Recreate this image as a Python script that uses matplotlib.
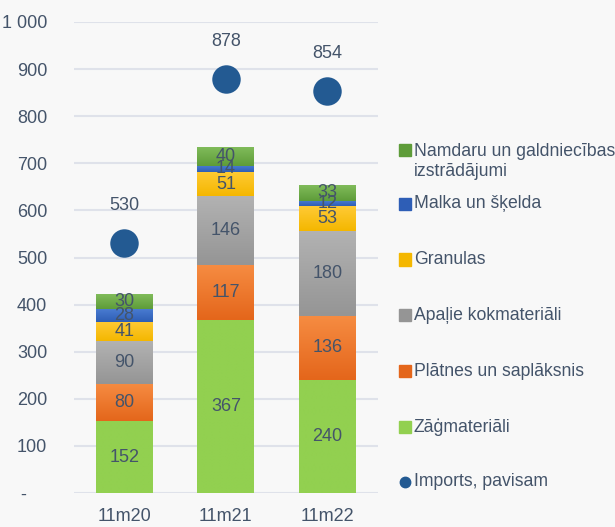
import numpy as np
import matplotlib
matplotlib.use("Agg")
import matplotlib.pyplot as plt
from matplotlib.colors import LinearSegmentedColormap
from matplotlib.patches import Rectangle
from matplotlib.lines import Line2D
from matplotlib.ticker import FuncFormatter

### DATA ###
categories = ["11m20", "11m21", "11m22"]
zagmateriali = [152, 367, 240]
platnes = [80, 117, 136]
apalie = [90, 146, 180]
granulas = [41, 51, 53]
malka = [28, 14, 12]
namdaru = [30, 40, 33]
imports_total = [530, 878, 854]

series_labels = ["Zāģmateriāli", "Plātnes un saplāksnis", "Apaļie kokmateriāli",
                 "Granulas", "Malka un šķelda", "Namdaru un galdniecības\nizstrādājumi"]
total_label = "Imports, pavisam"

### STYLE ###
TEXT_COLOR = "#44546a"
BG_COLOR = "#f8f8f8"
GRID_COLOR = "#dfe2ea"
DOT_COLOR = "#235a92"
FONT = "Liberation Sans"
FONT_SIZE = 13
LEGEND_FONT_SIZE = 12.7
BAR_WIDTH = 0.56

# (top colour, bottom colour) for each segment, bottom of the stack first
gradients = [("#92d050", "#92d050"),
             ("#f68c42", "#e4661b"),
             ("#b2b2b2", "#959595"),
             ("#ffca35", "#f4b700"),
             ("#4b7dd2", "#2e5eb6"),
             ("#80bb5a", "#5e9c39")]

plt.rcParams["font.family"] = [FONT, "DejaVu Sans"]

fig = plt.figure(figsize=(6.15, 5.27), dpi=100, facecolor=BG_COLOR)
ax = fig.add_axes([73.75 / 615, 34 / 527, (378 - 73.75) / 615, 471 / 527])
ax.set_facecolor(BG_COLOR)

stack = [zagmateriali, platnes, apalie, granulas, malka, namdaru]
x = np.arange(len(categories))
bottom = np.zeros(len(categories))

for values, (c_top, c_bot) in zip(stack, gradients):
    bars = ax.bar(x, values, BAR_WIDTH, bottom=bottom, color=c_bot, zorder=2)
    cmap = LinearSegmentedColormap.from_list("g", [c_bot, c_top])
    grad = np.linspace(0, 1, 64).reshape(-1, 1)
    for patch, v, b in zip(bars.patches, values, bottom):
        x0 = patch.get_x()
        x1 = x0 + patch.get_width()
        ax.imshow(grad, extent=(x0, x1, b, b + v), origin="lower", aspect="auto",
                  cmap=cmap, zorder=3, interpolation="bilinear")
        ax.text(patch.get_x() + patch.get_width() / 2, b + v / 2, f"{v}",
                ha="center", va="center", color=TEXT_COLOR, fontsize=FONT_SIZE, zorder=5)
    bottom = bottom + np.array(values)

# total imports dots
ax.scatter(x, imports_total, s=420, color=DOT_COLOR, zorder=6, linewidths=0)
for xi, t in zip(x, imports_total):
    ax.annotate(f"{t}", (xi, t), xytext=(0, 27), textcoords="offset points",
                ha="center", va="center", color=TEXT_COLOR, fontsize=FONT_SIZE)

# axes
ax.set_xlim(-0.5, 2.5)
ax.set_ylim(0, 1000)
ax.set_yticks(range(0, 1001, 100))
ax.yaxis.set_major_formatter(FuncFormatter(
    lambda v, p: "-    " if v == 0 else f"{int(v):,}".replace(",", " ")))
ax.set_xticks(x)
ax.set_xticklabels(categories)
ax.tick_params(axis="both", length=0, labelsize=FONT_SIZE, colors=TEXT_COLOR)
ax.tick_params(axis="y", pad=19)
ax.tick_params(axis="x", pad=11)
ax.grid(axis="y", color=GRID_COLOR, linewidth=1.5, zorder=0)
ax.set_axisbelow(True)
for s in ax.spines.values():
    s.set_visible(False)

# legend, drawn by hand to follow the reference spacing
def fx(px):
    return px / 615

def fy(py):
    return 1 - py / 527

legend_rows = [150, 204, 259.5, 315, 371, 427]
for i, (lab, (c_top, c_bot)) in enumerate(zip(series_labels[::-1], gradients[::-1])):
    yp = legend_rows[i]
    fig.patches.append(Rectangle((fx(399), fy(yp + 6)), fx(12), 12 / 527,
                                 transform=fig.transFigure, color=c_bot, figure=fig))
    if "\n" in lab:
        fig.text(fx(414), fy(yp + 11.5), lab, ha="left", va="center", color=TEXT_COLOR,
                 fontsize=LEGEND_FONT_SIZE, linespacing=1.28)
    else:
        fig.text(fx(414), fy(yp), lab, ha="left", va="center", color=TEXT_COLOR,
                 fontsize=LEGEND_FONT_SIZE)

fig.lines.append(Line2D([fx(405)], [fy(482)], marker="o", markersize=7.5, color=DOT_COLOR,
                        linestyle="none", transform=fig.transFigure, figure=fig))
fig.text(fx(414), fy(482), total_label, ha="left", va="center", color=TEXT_COLOR,
         fontsize=LEGEND_FONT_SIZE)

fig.savefig("out.png", dpi=100, facecolor=BG_COLOR)
